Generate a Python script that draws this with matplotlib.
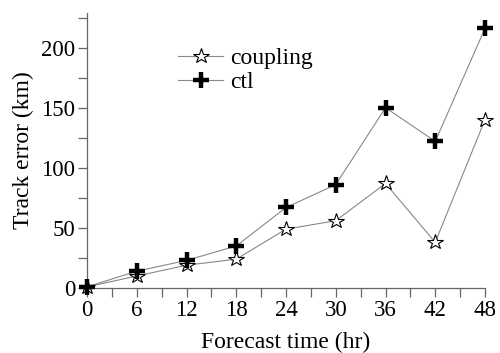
import matplotlib
matplotlib.use('Agg')
import matplotlib.pyplot as plt
from matplotlib.ticker import MultipleLocator

hours = [0, 6, 12, 18, 24, 30, 36, 42, 48]
coupling = [1, 10, 19, 24, 49, 56, 87, 38, 140]
ctl = [1, 14, 23, 35, 67, 86, 150, 122, 216]

plt.rc('font', family='Liberation Serif')

fig = plt.figure(figsize=(5, 3.53), dpi=100)
ax = fig.add_axes([0.174, 0.184, 0.796, 0.78])

ax.plot(hours, coupling, color='#888888', lw=0.8, marker='*', ms=11.5,
        mfc='white', mec='black', mew=0.8, label='coupling', clip_on=False, zorder=3)
ax.plot(hours, ctl, color='#888888', lw=0.8, marker='+', ms=11,
        mec='black', mew=3.2, label='ctl', clip_on=False, zorder=3)

ax.set_xlim(0, 48)
ax.set_ylim(0, 229)
ax.xaxis.set_major_locator(MultipleLocator(6))
ax.xaxis.set_minor_locator(MultipleLocator(3))
ax.yaxis.set_major_locator(MultipleLocator(50))
ax.yaxis.set_minor_locator(MultipleLocator(25))
for s in ['top', 'right']:
    ax.spines[s].set_visible(False)
for s in ['left', 'bottom']:
    ax.spines[s].set_color('#666666')
    ax.spines[s].set_linewidth(0.9)
ax.tick_params(which='both', direction='out', length=6.5, width=0.9,
               color='#666666', labelsize=16.5, pad=2)

ax.set_xlabel('Forecast time (hr)', fontsize=17, labelpad=8)
ax.set_ylabel('Track error (km)', fontsize=17, labelpad=5)

ax.legend(loc='upper left', bbox_to_anchor=(0.2, 0.915), frameon=False,
          fontsize=17, handlelength=1.9, handletextpad=0.3, labelspacing=0.1,
          borderpad=0)

fig.savefig('out.png', dpi=100)
